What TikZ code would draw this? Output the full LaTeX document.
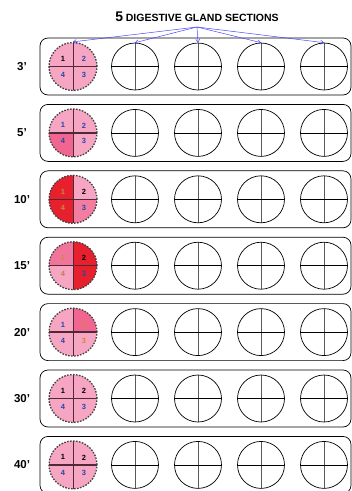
\documentclass[tikz,border=0pt]{standalone}
\usepackage{fontspec}
\setmainfont{Liberation Sans}
\usetikzlibrary{arrows.meta, positioning}
\definecolor{rosaclaro}{RGB}{246,166,194}
\definecolor{rosamedio}{RGB}{240,102,144}
\definecolor{rojo}{RGB}{230,32,44}
\definecolor{flechaazul}{RGB}{72,72,250}
\definecolor{numazul}{RGB}{40,70,170}
\definecolor{numnaranja}{RGB}{205,135,60}
\definecolor{cruzoscura}{RGB}{80,40,56}

\begin{document}
\begin{tikzpicture}[x=1pt, y=-1pt,
    fila/.style={rectangle, rounded corners=8pt, draw=black, line width=0.7pt, minimum width=311pt, minimum height=57pt},
    tiempo/.style={font=\bfseries\fontsize{11.5}{12}\selectfont, inner sep=0pt},
    vacio/.style={circle, draw=black, line width=0.7pt, minimum size=47pt, inner sep=0pt,
        path picture={
            \draw[black!65, line width=0.9pt] (path picture bounding box.north) -- (path picture bounding box.south);
            \draw[black, line width=0.7pt] (path picture bounding box.west) -- (path picture bounding box.east);}},
    muestra/.style n args={4}{circle, draw=black!75, dash pattern=on 1.6pt off 1.4pt, line width=1.3pt, minimum size=48pt, inner sep=0pt,
        path picture={
            \fill[#1] (path picture bounding box.center) rectangle (path picture bounding box.north west);
            \fill[#2] (path picture bounding box.center) rectangle (path picture bounding box.north east);
            \fill[#3] (path picture bounding box.center) rectangle (path picture bounding box.south east);
            \fill[#4] (path picture bounding box.center) rectangle (path picture bounding box.south west);
            \draw[solid, cruzoscura, line width=1pt] (path picture bounding box.north) -- (path picture bounding box.south);
            \draw[solid, cruzoscura, line width=1.3pt] (path picture bounding box.west) -- (path picture bounding box.east);}},
    num/.style={font=\bfseries\fontsize{7.5}{8}\selectfont, inner sep=0pt},
    flecha/.style={-{Straight Barb[length=3pt, width=4pt]}, draw=flechaazul, line width=0.5pt}
]
    \useasboundingbox (0,0) rectangle (352,491);

    % Titulo
    \node (titulo) at (197,17) {\bfseries{\fontsize{14}{14}\selectfont 5} {\fontsize{10.5}{11}\selectfont DIGESTIVE GLAND SECTIONS}};
    \coordinate (origen) at (197,27);

    % Filas
    \foreach \r/\t/\ca/\cb/\cc/\cd/\na/\nb/\nc/\nd in {
        0/3’/rosaclaro/rosaclaro/rosaclaro/rosaclaro/black/numazul/numazul/numazul,
        1/5'/rosaclaro/rosaclaro/rosaclaro/rosamedio/numazul/numazul/numazul/numazul,
        2/10’/rojo/rosaclaro/rosamedio!85/rojo/numnaranja/black/numazul/numnaranja,
        3/15’/rosamedio!90/rojo/rojo/rosaclaro/numnaranja/black/numazul/brown,
        4/20’/rosaclaro/rosamedio/rosaclaro/rosaclaro/numazul/numnaranja/numnaranja/numazul,
        5/30’/rosaclaro/rosaclaro/rosaclaro/rosaclaro/black/black/numazul/numazul,
        6/40’/rosaclaro/rosaclaro/rosaclaro/rosaclaro/black/black/numazul/numazul} {
        \node (fila\r) [fila] at (195.5,66.5+66.4*\r) {};
        \node (t\r) [tiempo] at (22,66.5+66.4*\r) {\t};
        \node (m\r) [muestra={\ca}{\cb}{\cc}{\cd}] at (73,66.5+66.4*\r) {};
        \node (m\r-1) [num, text=\na] at ([shift={(-10,-7.5)}]m\r.center) {1};
        \node (m\r-2) [num, text=\nb] at ([shift={(11,-7.5)}]m\r.center) {2};
        \node (m\r-3) [num, text=\nc] at ([shift={(11,8.5)}]m\r.center) {3};
        \node (m\r-4) [num, text=\nd] at ([shift={(-10,8.5)}]m\r.center) {4};
        \foreach \c/\x in {2/135, 3/198, 4/261, 5/324}
            \node (s\r-\c) [vacio] at (\x,66.5+66.4*\r) {};
    }

    % Flechas
    \draw [flecha] (origen) -- (m0.north);
    \foreach \c in {2,3,4,5}
        \draw [flecha] (origen) -- (s0-\c.north);
\end{tikzpicture}
\end{document}
